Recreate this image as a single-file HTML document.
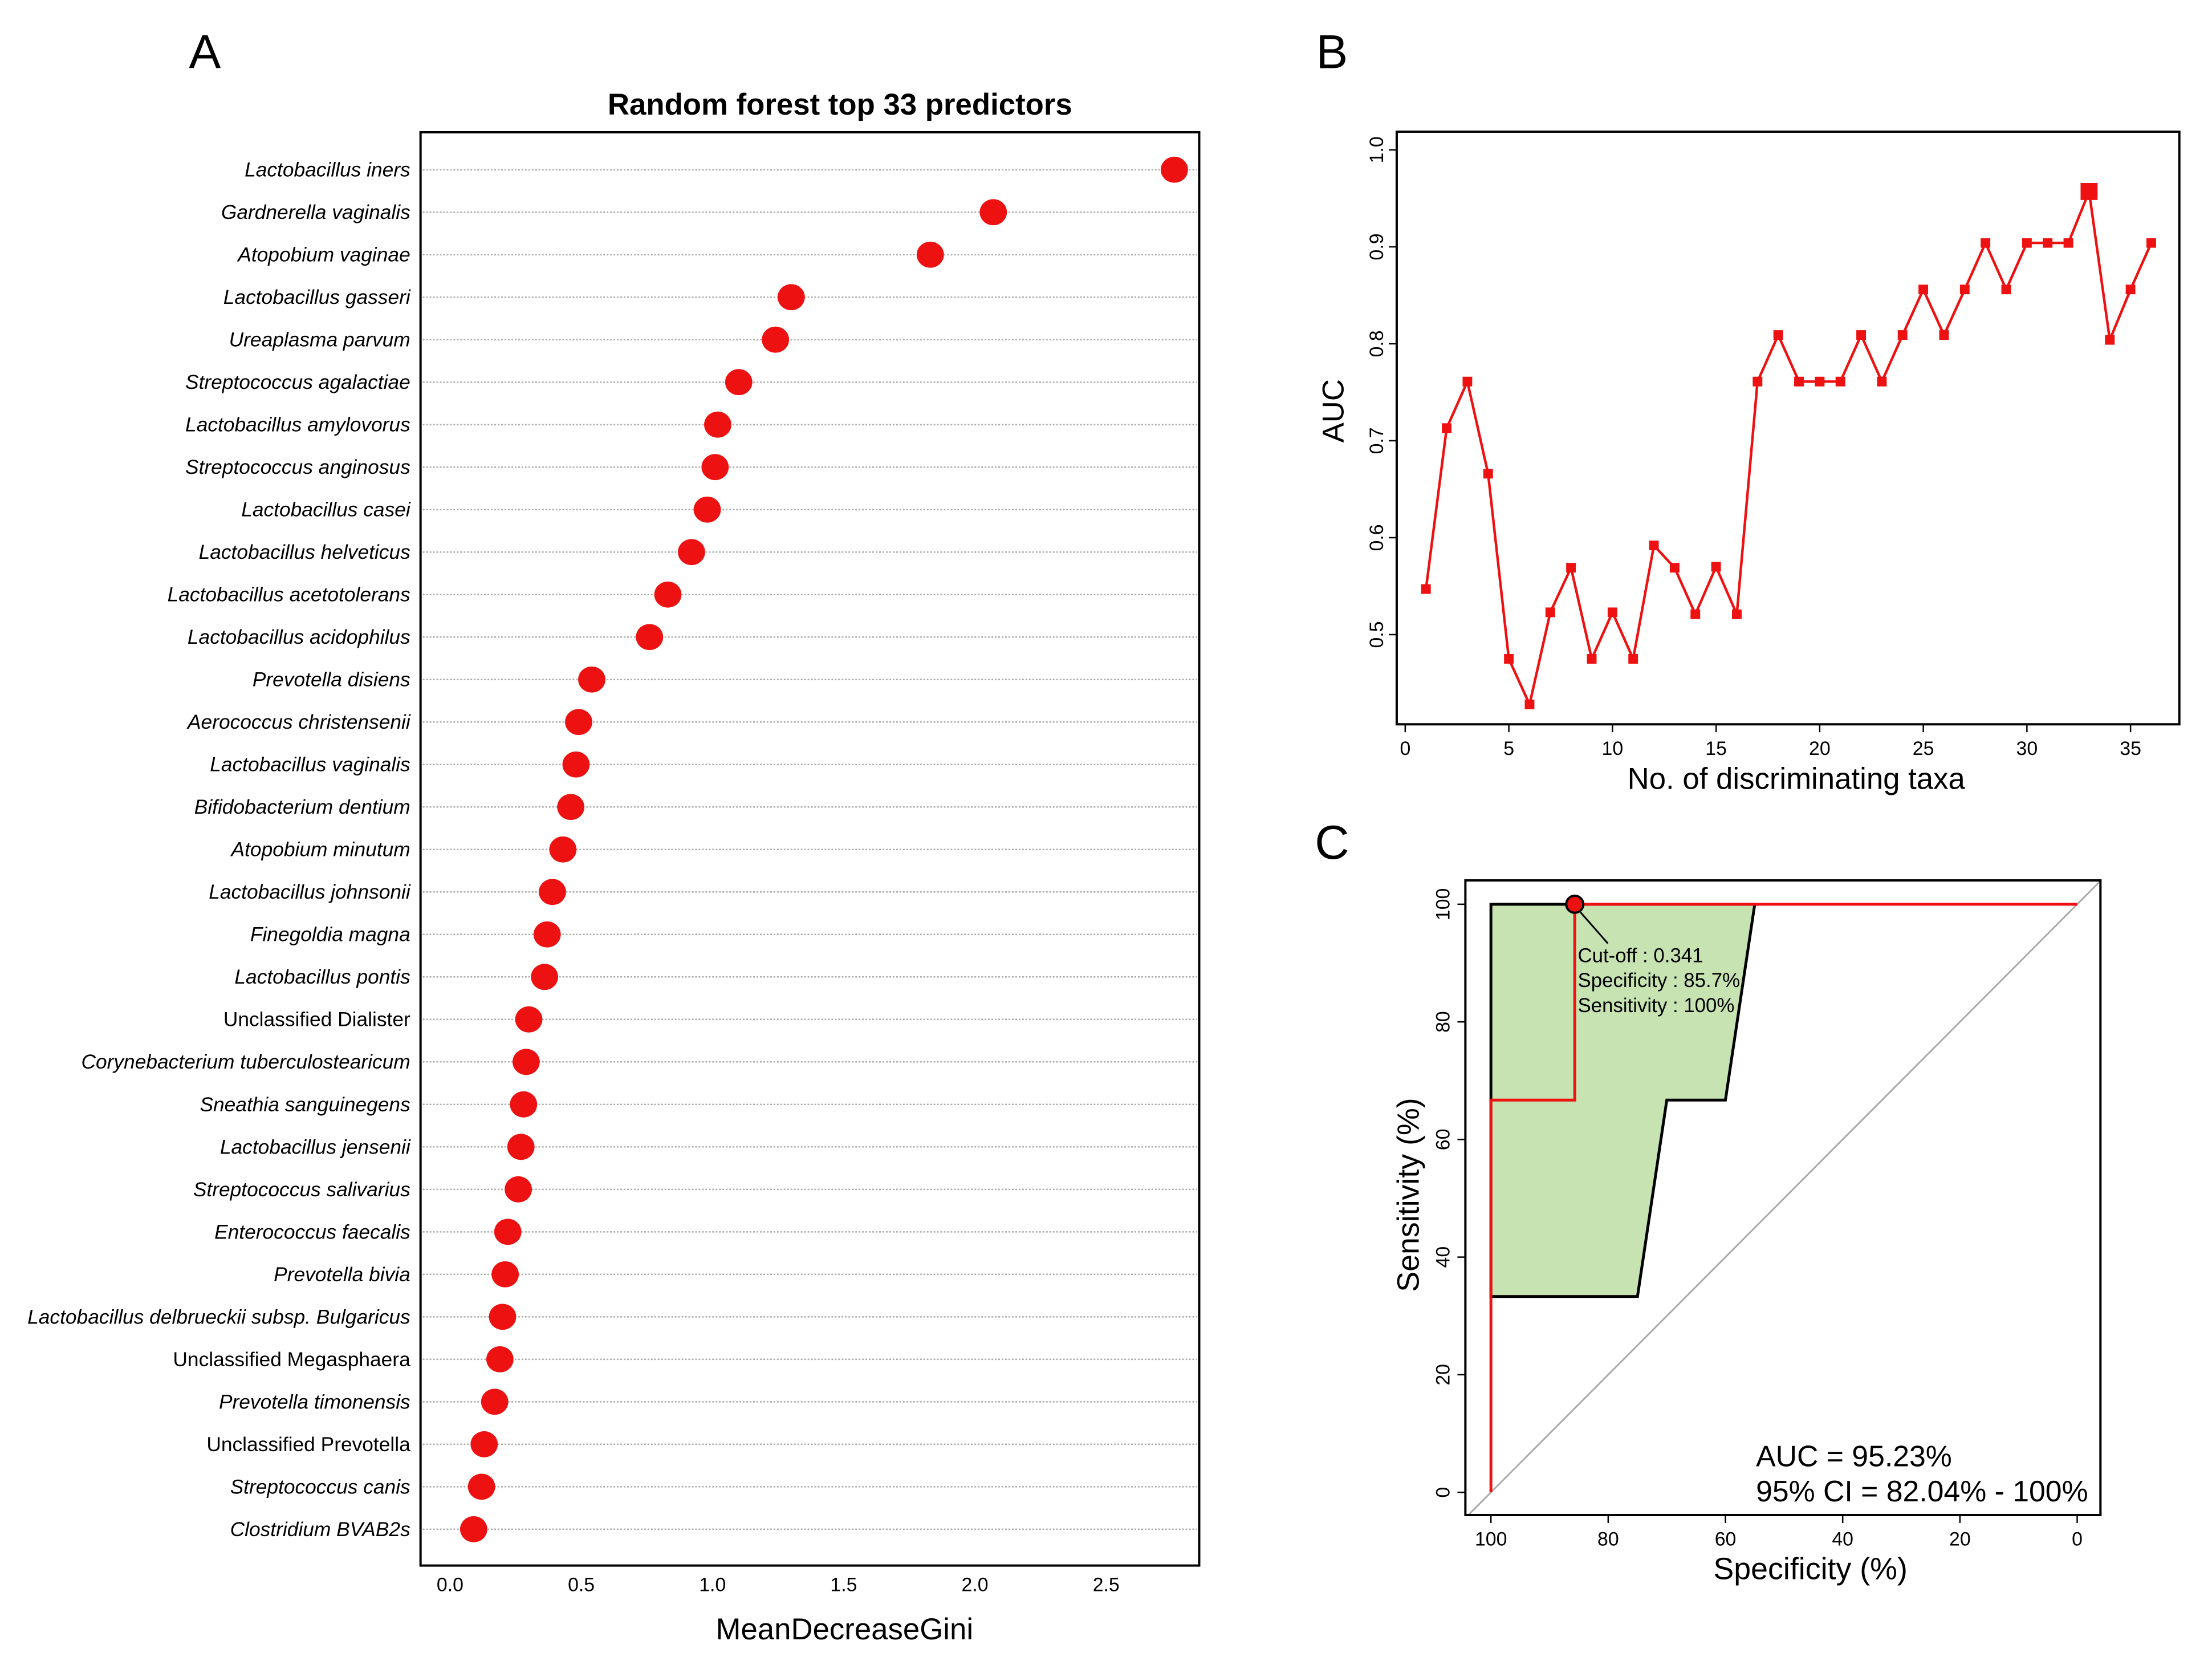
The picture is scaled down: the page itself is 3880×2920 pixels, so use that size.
<!DOCTYPE html>
<html><head><meta charset="utf-8"><style>
html,body{margin:0;padding:0;background:#fff;}
svg{display:block;font-family:"Liberation Sans",Arial,sans-serif;}
</style></head><body>
<svg id="fig" width="3880" height="2920" viewBox="0 0 3880 2920" xmlns="http://www.w3.org/2000/svg">
<rect x="0" y="0" width="3880" height="2920" fill="#fff"/>
<g transform="scale(0.9955)">
<g id="pa"></g>
<g id="pb"></g>
<g id="pc"></g>
</g>
</svg>
<script>
// Panel A data
const taxa = ["Lactobacillus iners","Gardnerella vaginalis","Atopobium vaginae","Lactobacillus gasseri","Ureaplasma parvum","Streptococcus agalactiae","Lactobacillus amylovorus","Streptococcus anginosus","Lactobacillus casei","Lactobacillus helveticus","Lactobacillus acetotolerans","Lactobacillus acidophilus","Prevotella disiens","Aerococcus christensenii","Lactobacillus vaginalis","Bifidobacterium dentium","Atopobium minutum","Lactobacillus johnsonii","Finegoldia magna","Lactobacillus pontis","Unclassified Dialister","Corynebacterium tuberculostearicum","Sneathia sanguinegens","Lactobacillus jensenii","Streptococcus salivarius","Enterococcus faecalis","Prevotella bivia","Lactobacillus delbrueckii subsp. Bulgaricus","Unclassified Megasphaera","Prevotella timonensis","Unclassified Prevotella","Streptococcus canis","Clostridium BVAB2s"];
const gini = [2.76,2.07,1.83,1.30,1.24,1.10,1.02,1.01,0.98,0.92,0.83,0.76,0.54,0.49,0.48,0.46,0.43,0.39,0.37,0.36,0.30,0.29,0.28,0.27,0.26,0.22,0.21,0.20,0.19,0.17,0.13,0.12,0.09];
const upright = [false,false,false,false,false,false,false,false,false,false,false,false,false,false,false,false,false,false,false,false,true,false,false,false,false,false,false,false,true,false,true,false,false];
const giniTicks = [0.0,0.5,1.0,1.5,2.0,2.5];
const giniTickLabels = ["0.0","0.5","1.0","1.5","2.0","2.5"];
// Panel B data
const nTaxa = [1,2,3,4,5,6,7,8,9,10,11,12,13,14,15,16,17,18,19,20,21,22,23,24,25,26,27,28,29,30,31,32,33,34,35,36];
const aucVals = [0.547,0.713,0.761,0.666,0.475,0.428,0.523,0.569,0.475,0.523,0.475,0.592,0.569,0.521,0.570,0.521,0.761,0.809,0.761,0.761,0.761,0.809,0.761,0.809,0.856,0.809,0.856,0.904,0.856,0.904,0.904,0.904,0.957,0.804,0.856,0.904];
const bestN = 33;
const bxTicks = [0,5,10,15,20,25,30,35];
const byTicks = [0.5,0.6,0.7,0.8,0.9,1.0];
// Panel C data
const rocSpec = [100,100,85.7,85.7,0];
const rocSens = [0,66.7,66.7,100,100];
const ciSpec = [100,55,60,70,75,100];
const ciSens = [100,100,66.7,66.7,33.3,33.3];
const cutSpec = 85.7, cutSens = 100;
const cTicks = [0,20,40,60,80,100];

const NS="http://www.w3.org/2000/svg";
function mk(parent,tag,attrs,text){const e=document.createElementNS(NS,tag);for(const k in attrs)e.setAttribute(k,attrs[k]);if(text!==undefined)e.textContent=text;parent.appendChild(e);return e;}

// ---------- Panel A ----------
(function(){
const g=document.getElementById('pa');
const L=741,R=2113,T=233,B=2758;
const ax=v=>793+(v-0)*(1949-793)/2.5;
const ay=i=>299+i*(2694-299)/32;
let t=mk(g,'text',{x:361,y:120,'font-size':84,'text-anchor':'middle'},'A');

t=mk(g,'text',{x:1480,y:202,'font-size':53,'font-weight':'bold','text-anchor':'middle'},'Random forest top 33 predictors');

taxa.forEach((name,i)=>{
  const y=ay(i);
  const ln=mk(g,'line',{x1:L+4,x2:R-4,y1:y,y2:y,stroke:'#aaa','stroke-width':2.5,'stroke-dasharray':'3 3'});
  
  const lb=mk(g,'text',{x:723,y:y+12,'font-size':35.5,'text-anchor':'end','font-style':upright[i]?'normal':'italic'},name);
  
});
gini.forEach((v,i)=>{
  const d=mk(g,'ellipse',{cx:ax(v),cy:ay(i),rx:24,ry:23,fill:'#ee1111'});
  
});
const box=mk(g,'rect',{x:L,y:T,width:R-L,height:B-T,fill:'none',stroke:'#000','stroke-width':4});

giniTicks.forEach((v,i)=>{
  const tl=mk(g,'text',{x:ax(v),y:2803,'font-size':34,'text-anchor':'middle'},giniTickLabels[i]);
  
});
t=mk(g,'text',{x:1488,y:2888,'font-size':53,'text-anchor':'middle'},'MeanDecreaseGini');

})();

// ---------- Panel B ----------
(function(){
const g=document.getElementById('pb');
const L=2461,R=3840,T=232,B=1276;
const bx=v=>2476+v*(3754-2476)/35;
const by=v=>264+(1.0-v)*(1118-264)/0.5;
let t=mk(g,'text',{x:2347,y:120,'font-size':84,'text-anchor':'middle'},'B');

const box=mk(g,'rect',{x:L,y:T,width:R-L,height:B-T,fill:'none',stroke:'#000','stroke-width':4});

const pts=nTaxa.map((n,i)=>bx(n)+','+by(aucVals[i])).join(' ');
const pl=mk(g,'polyline',{points:pts,fill:'none',stroke:'#ee1111','stroke-width':4.5});

nTaxa.forEach((n,i)=>{
  const s=n===bestN?30:17;
  const m=mk(g,'rect',{x:bx(n)-s/2,y:by(aucVals[i])-s/2,width:s,height:s,fill:'#ee1111'});
  
});
bxTicks.forEach(v=>{
  const tk=mk(g,'line',{x1:bx(v),x2:bx(v),y1:B,y2:B+14,stroke:'#000','stroke-width':2.5});
  
  const tl=mk(g,'text',{x:bx(v),y:1330,'font-size':34,'text-anchor':'middle'},String(v));
  
});
byTicks.forEach(v=>{
  const tk=mk(g,'line',{x1:L-14,x2:L,y1:by(v),y2:by(v),stroke:'#000','stroke-width':2.5});
  
  const tl=mk(g,'text',{x:2437,y:by(v),'font-size':34,'text-anchor':'middle',transform:`rotate(-90 2437 ${by(v)})`},v.toFixed(1));
  
});
t=mk(g,'text',{x:3165,y:1390,'font-size':53,'text-anchor':'middle'},'No. of discriminating taxa');

t=mk(g,'text',{x:2367,y:724,'font-size':53,'text-anchor':'middle',transform:'rotate(-90 2367 724)'},'AUC');

})();

// ---------- Panel C ----------
(function(){
const g=document.getElementById('pc');
const L=2582,R=3701,T=1551,B=2669;
const cx=v=>3660-v*(3660-2627)/100;
const cy=v=>2629-v*(2629-1593)/100;
let t=mk(g,'text',{x:2347,y:1513,'font-size':84,'text-anchor':'middle'},'C');

const cp=mk(g,'clipPath',{id:'clipc'});mk(cp,'rect',{x:L,y:T,width:R-L,height:B-T});
const k=(3660-2627)/100, kv=(2629-1593)/100;
const diag=mk(g,'line',{x1:L,y1:cy(100-(3660-L)/k),x2:R,y2:cy(100+(R-3660)/k),stroke:'#aaa','stroke-width':3,'clip-path':'url(#clipc)'});

const ci=mk(g,'polygon',{points:ciSpec.map((s,i)=>cx(s)+','+cy(ciSens[i])).join(' '),fill:'#c6e3b1',stroke:'#000','stroke-width':5});

const roc=mk(g,'polyline',{points:rocSpec.map((s,i)=>cx(s)+','+cy(rocSens[i])).join(' '),fill:'none',stroke:'#ee1111','stroke-width':5});

const ld=mk(g,'line',{x1:cx(cutSpec)+10,y1:cy(cutSens)+14,x2:2833,y2:1662,stroke:'#000','stroke-width':3});

const dot=mk(g,'circle',{cx:cx(cutSpec),cy:cy(cutSens),r:15,fill:'#ee1111',stroke:'#000','stroke-width':4});

['Cut-off : 0.341','Specificity : 85.7%','Sensitivity : 100%'].forEach((s,i)=>{
  const a=mk(g,'text',{x:2780,y:1695+i*44,'font-size':35},s);
  
});
const box=mk(g,'rect',{x:L,y:T,width:R-L,height:B-T,fill:'none',stroke:'#000','stroke-width':4});

cTicks.forEach(v=>{
  let tk=mk(g,'line',{x1:cx(v),x2:cx(v),y1:B,y2:B+14,stroke:'#000','stroke-width':2.5});
  
  let tl=mk(g,'text',{x:cx(v),y:2723,'font-size':34,'text-anchor':'middle'},String(v));
  
  tk=mk(g,'line',{x1:L-14,x2:L,y1:cy(v),y2:cy(v),stroke:'#000','stroke-width':2.5});
  
  tl=mk(g,'text',{x:2554,y:cy(v),'font-size':34,'text-anchor':'middle',transform:`rotate(-90 2554 ${cy(v)})`},String(v));
  
});
t=mk(g,'text',{x:3094,y:2583,'font-size':52},'AUC = 95.23%');

t=mk(g,'text',{x:3094,y:2645,'font-size':52},'95% CI = 82.04% - 100%');

t=mk(g,'text',{x:3190,y:2782,'font-size':54,'text-anchor':'middle'},'Specificity (%)');

t=mk(g,'text',{x:2500,y:2105,'font-size':54,'text-anchor':'middle',transform:'rotate(-90 2500 2105)'},'Sensitivity (%)');

})();
</script>
</body></html>
